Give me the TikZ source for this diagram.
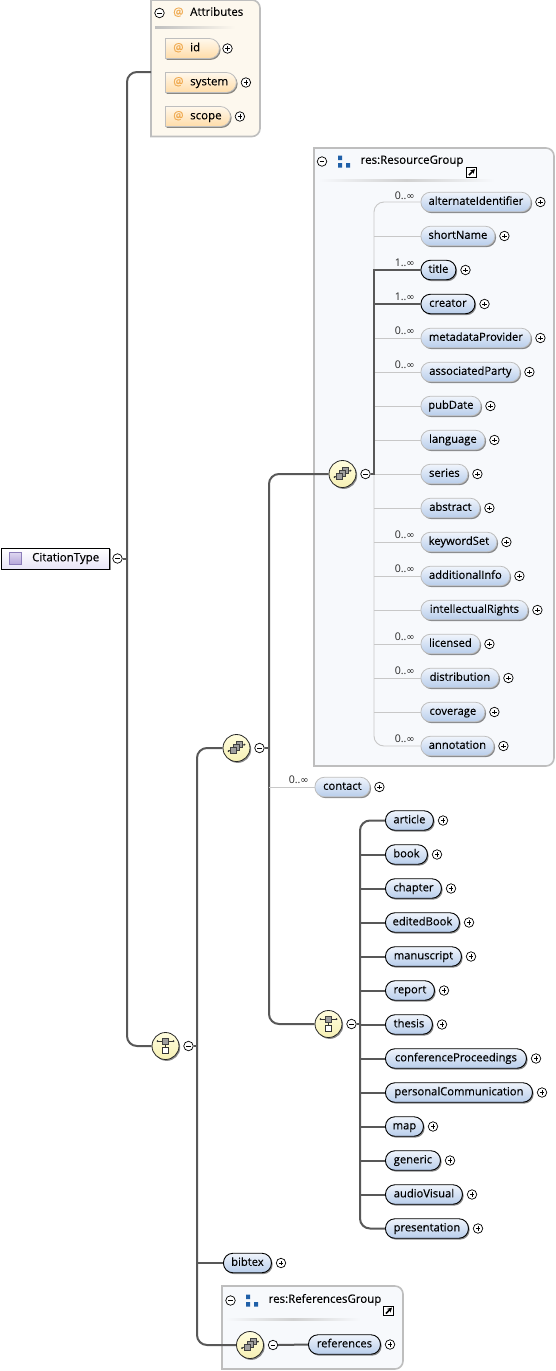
\documentclass[tikz,border=0pt]{standalone}
\usepackage{fontspec}
\setmainfont{Open Sans}
\newfontfamily\elemfont[FakeBold=0.25]{Open Sans}
\newfontfamily\symbfont{DejaVu Sans}
\usepackage{xcolor}
\usetikzlibrary{positioning, shadows, arrows.meta, shapes.misc, calc}
\definecolor{WireDark}{RGB}{88, 88, 88}
\definecolor{WireLight}{RGB}{200, 200, 200}
\definecolor{PanelEdge}{RGB}{190, 190, 190}
\definecolor{PanelBlue}{RGB}{247, 249, 252}
\definecolor{PanelCream}{RGB}{253, 248, 238}
\definecolor{PillTop}{RGB}{240, 245, 252}
\definecolor{PillBottom}{RGB}{184, 205, 235}
\definecolor{AttrTop}{RGB}{255, 248, 236}
\definecolor{AttrBottom}{RGB}{255, 220, 168}
\definecolor{AttrOrange}{RGB}{240, 170, 80}
\definecolor{BallTop}{RGB}{255, 253, 222}
\definecolor{BallBottom}{RGB}{246, 240, 180}
\definecolor{GroupBlue}{RGB}{32, 96, 168}
\definecolor{RootBottom}{RGB}{232, 228, 246}
\definecolor{RootIconTop}{RGB}{222, 214, 240}
\definecolor{RootIconBottom}{RGB}{180, 165, 216}
\definecolor{RootIconEdge}{RGB}{140, 125, 185}
\newcommand{\anycount}{0..{\symbfont\fontsize{10}{11}\selectfont ∞}}
\newcommand{\somecount}{1..{\symbfont\fontsize{10}{11}\selectfont ∞}}
\tikzset{
  softshadow/.style={drop shadow={shadow xshift=1.2pt, shadow yshift=-1.4pt, fill=black, opacity=0.45}},
  pill/.style={rectangle, rounded corners=9.5pt, minimum height=19.5pt, inner sep=0pt, top color=PillTop, bottom color=PillBottom, softshadow, font=\elemfont\fontsize{11.2}{12}\selectfont, text height=8.2pt, text depth=2.6pt, anchor=west},
  opt/.style={pill, draw=PanelEdge, line width=0.8pt},
  req/.style={pill, draw=black, line width=0.9pt},
  attr/.style={rounded rectangle, rounded rectangle left arc=none, draw=PanelEdge, line width=0.8pt, minimum height=20pt, inner sep=0pt, top color=AttrTop, bottom color=AttrBottom, softshadow, anchor=west},
  row/.style={below=34pt of #1.west, anchor=west},
  ball/.style={circle, draw=black!85, line width=0.8pt, minimum size=27pt, inner sep=0pt, top color=BallTop, bottom color=BallBottom, softshadow},
  toggle/.style={circle, draw=black, line width=0.7pt, fill=white, minimum size=9.5pt, inner sep=0pt},
  minusmark/.style={toggle, path picture={\draw[line width=0.7pt] ([xshift=-2.4pt]path picture bounding box.center) -- ([xshift=2.4pt]path picture bounding box.center);}},
  plusmark/.style={toggle, path picture={\draw[line width=0.6pt] ([xshift=-2.2pt]path picture bounding box.center) -- ([xshift=2.2pt]path picture bounding box.center) ([yshift=-2.2pt]path picture bounding box.center) -- ([yshift=2.2pt]path picture bounding box.center);}},
  plusof/.style={plusmark, right=4pt of #1},
  heavy/.style={draw=WireDark, line width=2pt},
  lite/.style={draw=WireLight, line width=0.9pt},
  panel/.style={draw=PanelEdge, line width=1.6pt},
  count/.style={font=\fontsize{10.6}{11}\selectfont, text=black!85, inner sep=0pt, anchor=south east},
  title/.style={font=\elemfont\fontsize{11.5}{12}\selectfont, text height=8.2pt, text depth=2.6pt, inner sep=0pt, anchor=west},
  chip/.style={fill=black!38, draw=black!75, line width=0.6pt},
  seqmark/.pic={
    \draw[black!80, line width=0.8pt] (-8,3) -- (8,-3.5);
    \fill[black!80] (-8,3) circle (1pt) (8,-3.5) circle (1pt);
    \draw[chip] (0,-6.5) rectangle (6,-0.5);
    \draw[chip] (-3,-3.5) rectangle (3,2.5);
    \draw[chip] (-6,-0.5) rectangle (0,5.5);
  },
  choicemark/.pic={
    \draw[black!80, line width=0.8pt] (-8,-5) -- (8,-5) (0,-5) -- (0,1);
    \fill[black!80] (-8,-5) circle (1pt) (8,-5) circle (1pt);
    \draw[chip] (-3,-8) rectangle (3,-2);
    \draw[fill=white, draw=black!80, line width=0.7pt] (-3,1.5) rectangle (3,7.5);
  },
  groupmark/.pic={
    \fill[GroupBlue] (-6,-6) rectangle (-2,-1.5) (-6,1.5) rectangle (-2,6) (2,1.5) rectangle (6,6);
  },
  linkmark/.pic={
    \draw[fill=white, draw=black, line width=0.9pt] (-4.8,-4.8) rectangle (4.8,4.8);
    \draw[line width=1.6pt, -{Stealth[length=4.5pt,width=5pt]}] (-2.6,2.6) -- (3.4,-3.4);
  }
}
\begin{document}
\begin{tikzpicture}[x=1pt, y=-1pt]
  \useasboundingbox (0,0) rectangle (556,1371);
  \fill[white] (0,0) rectangle (556,1371);

  % attributes panel
  \draw[panel, fill=PanelCream] (151,0) [rounded corners=8pt] -- (260,0) -- (260,136.5) [sharp corners] -- (151,136.5) -- cycle;
  \coordinate (attrsin) at (151,72);
  \shade[left color=black!25, right color=PanelCream] (155,26.5) rectangle (235,28);
  \node[minusmark] (attrsminus) at (159.5,13) {};
  \node[title, text=AttrOrange] (attrsat) at (173,13) {@};
  \node[title] (attrstitle) at (190,13) {Attributes};
  \node[attr, minimum width=54pt] (id) at (165,48.5) {};
  \node[attr, minimum width=71pt, row=id] (system) {};
  \node[attr, minimum width=65pt, row=system] (scope) {};
  \node[title, text=AttrOrange, right=8pt of id.west] (idat) {@};
  \node[title, text=AttrOrange, right=8pt of system.west] (systemat) {@};
  \node[title, text=AttrOrange, right=8pt of scope.west] (scopeat) {@};
  \node[title, right=25pt of id.west] (idname) {id};
  \node[title, right=25pt of system.west] (systemname) {system};
  \node[title, right=25pt of scope.west] (scopename) {scope};
  \node[plusmark] (idplus) at (227.5,48.5) {};
  \node[plusof=system] (systemplus) {};
  \node[plusof=scope] (scopeplus) {};

  % resource group panel
  \draw[panel, fill=PanelBlue] (314,148) [rounded corners=8pt] -- (554,148) -- (554,766) [sharp corners] -- (314,766) -- cycle;
  \shade[left color=PanelBlue, right color=PanelBlue, middle color=black!18] (318,179.5) rectangle (495,181);
  \node[minusmark] (resminus) at (322,161.5) {};
  \pic at (344,161.5) {groupmark};
  \node[title] (restitle) at (360.5,161) {res:ResourceGroup};
  \pic at (471.5,172.5) {linkmark};

  \node[opt, minimum width=110pt] (alternateIdentifier) at (420.5,202) {alternateIdentifier};
  \node[opt, minimum width=74pt, row=alternateIdentifier] (shortName) {shortName};
  \node[req, minimum width=35pt, row=shortName] (titlepill) {title};
  \node[req, minimum width=54pt, row=titlepill] (creator) {creator};
  \node[opt, minimum width=110pt, row=creator] (metadataProvider) {metadataProvider};
  \node[opt, minimum width=99pt, row=metadataProvider] (associatedParty) {associatedParty};
  \node[opt, minimum width=60pt, row=associatedParty] (pubDate) {pubDate};
  \node[opt, minimum width=64pt, row=pubDate] (language) {language};
  \node[opt, minimum width=47pt, row=language] (series) {series};
  \node[opt, minimum width=59pt, row=series] (abstract) {abstract};
  \node[opt, minimum width=76pt, row=abstract] (keywordSet) {keywordSet};
  \node[opt, minimum width=89pt, row=keywordSet] (additionalInfo) {additionalInfo};
  \node[opt, minimum width=107pt, row=additionalInfo] (intellectualRights) {intellectualRights};
  \node[opt, minimum width=59pt, row=intellectualRights] (licensed) {licensed};
  \node[opt, minimum width=78pt, row=licensed] (distribution) {distribution};
  \node[opt, minimum width=64pt, row=distribution] (coverage) {coverage};
  \node[opt, minimum width=73pt, row=coverage] (annotation) {annotation};

  \node[plusof=alternateIdentifier] (p1) {};
  \node[plusof=shortName] (p2) {};
  \node[plusof=titlepill] (p3) {};
  \node[plusof=creator] (p4) {};
  \node[plusof=metadataProvider] (p5) {};
  \node[plusof=associatedParty] (p6) {};
  \node[plusof=pubDate] (p7) {};
  \node[plusof=language] (p8) {};
  \node[plusof=series] (p9) {};
  \node[plusof=abstract] (p10) {};
  \node[plusof=keywordSet] (p11) {};
  \node[plusof=additionalInfo] (p12) {};
  \node[plusof=intellectualRights] (p13) {};
  \node[plusof=licensed] (p14) {};
  \node[plusof=distribution] (p15) {};
  \node[plusof=coverage] (p16) {};
  \node[plusof=annotation] (p17) {};

  \node[ball] (resball) at (342.5,474) {};
  \pic at (resball) {seqmark};
  \node[minusmark, right=4pt of resball] (resballminus) {};
  \coordinate (resspine) at (374,474);

  \draw[lite, rounded corners=10pt] (alternateIdentifier.west) -| (resspine) |- (annotation.west);
  \draw[lite] (resspine |- shortName.west) -- (shortName.west);
  \draw[lite] (resspine |- metadataProvider.west) -- (metadataProvider.west);
  \draw[lite] (resspine |- associatedParty.west) -- (associatedParty.west);
  \draw[lite] (resspine |- pubDate.west) -- (pubDate.west);
  \draw[lite] (resspine |- language.west) -- (language.west);
  \draw[lite] (resspine |- series.west) -- (series.west);
  \draw[lite] (resspine |- abstract.west) -- (abstract.west);
  \draw[lite] (resspine |- keywordSet.west) -- (keywordSet.west);
  \draw[lite] (resspine |- additionalInfo.west) -- (additionalInfo.west);
  \draw[lite] (resspine |- intellectualRights.west) -- (intellectualRights.west);
  \draw[lite] (resspine |- licensed.west) -- (licensed.west);
  \draw[lite] (resspine |- distribution.west) -- (distribution.west);
  \draw[lite] (resspine |- coverage.west) -- (coverage.west);
  \draw[heavy] (titlepill.west) -| (resspine) -- (resballminus.east);
  \draw[heavy] (resspine |- creator.west) -- (creator.west);

  \node[count] (c1) at (415,200) {\anycount};
  \node[count] (c3) at (415,267) {\somecount};
  \node[count] (c4) at (415,301) {\somecount};
  \node[count] (c5) at (415,335) {\anycount};
  \node[count] (c6) at (415,369) {\anycount};
  \node[count] (c11) at (415,539) {\anycount};
  \node[count] (c12) at (415,573) {\anycount};
  \node[count] (c14) at (415,641) {\anycount};
  \node[count] (c15) at (415,675) {\anycount};
  \node[count] (c17) at (415,743) {\anycount};

  % contact and publication choice
  \node[opt, minimum width=55pt] (contact) at (314.5,787) {contact};
  \node[plusof=contact] (contactplus) {};
  \node[count] (contactcount) at (309,784) {\anycount};

  \node[req, minimum width=48pt] (article) at (385,820.5) {article};
  \node[req, minimum width=42pt, row=article] (book) {book};
  \node[req, minimum width=56pt, row=book] (chapter) {chapter};
  \node[req, minimum width=74pt, row=chapter] (editedBook) {editedBook};
  \node[req, minimum width=76pt, row=editedBook] (manuscript) {manuscript};
  \node[req, minimum width=49pt, row=manuscript] (report) {report};
  \node[req, minimum width=47pt, row=report] (thesis) {thesis};
  \node[req, minimum width=141pt, row=thesis] (conferenceProceedings) {conferenceProceedings};
  \node[req, minimum width=147pt, row=conferenceProceedings] (personalCommunication) {personalCommunication};
  \node[req, minimum width=38pt, row=personalCommunication] (map) {map};
  \node[req, minimum width=55pt, row=map] (generic) {generic};
  \node[req, minimum width=77pt, row=generic] (audioVisual) {audioVisual};
  \node[req, minimum width=83pt, row=audioVisual] (presentation) {presentation};

  \node[plusof=article] (q1) {};
  \node[plusof=book] (q2) {};
  \node[plusof=chapter] (q3) {};
  \node[plusof=editedBook] (q4) {};
  \node[plusof=manuscript] (q5) {};
  \node[plusof=report] (q6) {};
  \node[plusof=thesis] (q7) {};
  \node[plusof=conferenceProceedings] (q8) {};
  \node[plusof=personalCommunication] (q9) {};
  \node[plusof=map] (q10) {};
  \node[plusof=generic] (q11) {};
  \node[plusof=audioVisual] (q12) {};
  \node[plusof=presentation] (q13) {};

  \node[ball] (pubball) at (328.5,1024) {};
  \pic at (pubball) {choicemark};
  \node[minusmark, right=4pt of pubball] (pubballminus) {};
  \coordinate (pubspine) at (360,1024);

  \draw[heavy, rounded corners=10pt] (article.west) -| (pubspine) |- (presentation.west);
  \draw[heavy] (pubballminus.east) -- (pubspine);
  \draw[heavy] (pubspine |- book.west) -- (book.west);
  \draw[heavy] (pubspine |- chapter.west) -- (chapter.west);
  \draw[heavy] (pubspine |- editedBook.west) -- (editedBook.west);
  \draw[heavy] (pubspine |- manuscript.west) -- (manuscript.west);
  \draw[heavy] (pubspine |- report.west) -- (report.west);
  \draw[heavy] (pubspine |- thesis.west) -- (thesis.west);
  \draw[heavy] (pubspine |- conferenceProceedings.west) -- (conferenceProceedings.west);
  \draw[heavy] (pubspine |- personalCommunication.west) -- (personalCommunication.west);
  \draw[heavy] (pubspine |- map.west) -- (map.west);
  \draw[heavy] (pubspine |- generic.west) -- (generic.west);
  \draw[heavy] (pubspine |- audioVisual.west) -- (audioVisual.west);

  % middle sequence
  \node[ball] (midball) at (236.5,748) {};
  \pic at (midball) {seqmark};
  \node[minusmark, right=4pt of midball] (midballminus) {};
  \coordinate (midspine) at (269,748);
  \draw[heavy, rounded corners=10pt] (resball.west) -| (midspine) |- (pubball.west);
  \draw[heavy] (midballminus.east) -- (midspine);
  \draw[lite] (midspine |- contact.west) -- (contact.west);

  % references group panel
  \draw[panel, fill=PanelBlue] (222,1286) [rounded corners=8pt] -- (403,1286) -- (403,1369) [sharp corners] -- (222,1369) -- cycle;
  \shade[left color=PanelBlue, right color=PanelBlue, middle color=black!18] (226,1318.5) rectangle (360,1320);
  \node[minusmark] (refsminus) at (230.5,1300.5) {};
  \pic at (252,1300.5) {groupmark};
  \node[title] (refstitle) at (268.5,1300) {res:ReferencesGroup};
  \pic at (388.5,1311) {linkmark};

  \node[req, minimum width=72pt] (references) at (308,1344.5) {references};
  \node[plusof=references] (refsplus) {};
  \node[ball] (refsball) at (250,1345) {};
  \pic at (refsball) {seqmark};
  \node[minusmark, right=4pt of refsball] (refsballminus) {};
  \draw[heavy] (refsballminus.east) -- (references.west);

  \node[req, minimum width=48pt] (bibtex) at (223,1263) {bibtex};
  \node[plusof=bibtex] (bibtexplus) {};

  % outer choice
  \node[ball] (rootball) at (165.5,1046) {};
  \pic at (rootball) {choicemark};
  \node[minusmark, right=4pt of rootball] (rootballminus) {};
  \coordinate (rootspine) at (197,1046);
  \draw[heavy, rounded corners=10pt] (midball.west) -| (rootspine) |- (refsball.west);
  \draw[heavy] (rootballminus.east) -- (rootspine);
  \draw[heavy] (rootspine |- bibtex.west) -- (bibtex.west);

  % root element
  \node[rectangle, draw=black, line width=0.9pt, minimum width=108pt, minimum height=21pt, inner sep=0pt, top color=white, bottom color=RootBottom, softshadow, anchor=west] (citation) at (1,558.5) {};
  \node[title] (citationname) at (32,558.5) {CitationType};
  \node[rectangle, draw=RootIconEdge, line width=0.7pt, minimum size=12pt, inner sep=0pt, top color=RootIconTop, bottom color=RootIconBottom] (citationicon) at (15.5,558.5) {};
  \node[minusmark, right=2.5pt of citation] (citationminus) {};
  \coordinate (rootin) at (127,558.5);
  \draw[heavy, rounded corners=10pt] (attrsin) -| (rootin) |- (rootball.west);
  \draw[heavy] (citationminus.east) -- (rootin);
\end{tikzpicture}
\end{document}
